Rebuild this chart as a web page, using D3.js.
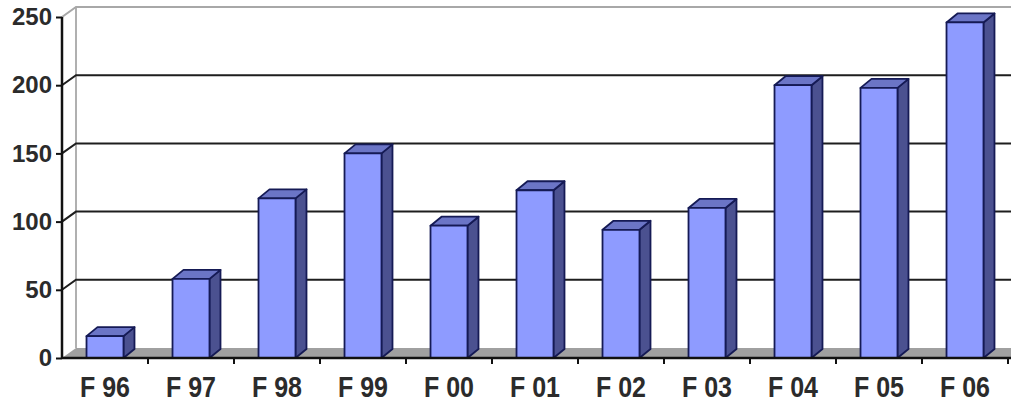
<!DOCTYPE html>
<html>
<head>
<meta charset="utf-8">
<script src="https://cdn.jsdelivr.net/npm/d3@7.9.0/dist/d3.min.js"></script>
<style>
  body { margin: 0; background: #fff; }
  svg text { font-family: "Liberation Sans", Arial, sans-serif; font-weight: bold; fill: #2b2b2b; }
</style>
</head>
<body>
<svg width="1011" height="404"></svg>
<script>
// data
const years = ['F 96', 'F 97', 'F 98', 'F 99', 'F 00', 'F 01', 'F 02', 'F 03', 'F 04', 'F 05', 'F 06'];
const counts = [16, 58, 117, 150, 97, 123, 94, 110, 200, 198, 246];
const yTicks = [0, 50, 100, 150, 200, 250];

const svg = d3.select('svg');
const plotLeft = 62, plotRight = 1008, plotBottom = 358, plotTop = 17;
const depth = { dx: 14, dy: -10 };     // wall depth
const barDepth = { dx: 11, dy: -9 };   // column depth

const x = d3.scaleBand().domain(years).range([plotLeft, plotRight]);
const y = d3.scaleLinear().domain([0, 250]).range([plotBottom, plotTop]);

// floor
svg.append('polygon')
  .attr('points', [[plotLeft, plotBottom], [plotLeft + depth.dx, plotBottom + depth.dy], [1011, plotBottom + depth.dy], [1011, plotBottom]].join(' '))
  .attr('fill', '#a0a0a0');

// back wall left edge
svg.append('line')
  .attr('x1', plotLeft + depth.dx).attr('x2', plotLeft + depth.dx)
  .attr('y1', y(250) + depth.dy).attr('y2', y(0) + depth.dy)
  .attr('stroke', '#b0b0b0').attr('stroke-width', 2);

// gridlines: diagonal on the side wall, then along the back wall
yTicks.filter(d => d > 0).forEach(d => {
  const yy = y(d);
  const col = d === 250 ? '#a8a8a8' : '#1e1e1e';
  svg.append('polyline')
    .attr('points', [[plotLeft, yy], [plotLeft + depth.dx, yy + depth.dy], [1011, yy + depth.dy]].join(' '))
    .attr('fill', 'none').attr('stroke', col).attr('stroke-width', 2);
});

// y axis
const yAxis = svg.append('g')
  .attr('transform', `translate(${plotLeft},0)`)
  .call(d3.axisLeft(y).tickValues(yTicks).tickSize(6).tickPadding(4));
yAxis.select('.domain').attr('stroke', '#111').attr('stroke-width', 2.5).attr('d', `M0,${plotTop}V${plotBottom}`);
yAxis.selectAll('.tick line').attr('stroke', '#111').attr('stroke-width', 2);
yAxis.selectAll('.tick text').style('font-size', '24px').attr('fill', '#2b2b2b');

// bars
const bw = x.bandwidth() * 0.43;
const bars = svg.append('g').selectAll('g').data(years.map((c, i) => ({ c, v: counts[i] }))).join('g');
bars.each(function (d) {
  const g = d3.select(this);
  const x0 = x(d.c) + (x.bandwidth() - bw) / 2, x1 = x0 + bw;
  const y0 = y(0), y1 = y(d.v);
  const ddx = barDepth.dx, ddy = barDepth.dy;
  g.append('polygon')
    .attr('points', [[x1, y1], [x1 + ddx, y1 + ddy], [x1 + ddx, y0 + ddy], [x1, y0]].join(' '))
    .attr('fill', '#4b5190');
  g.append('polygon')
    .attr('points', [[x0, y1], [x0 + ddx, y1 + ddy], [x1 + ddx, y1 + ddy], [x1, y1]].join(' '))
    .attr('fill', '#6b75c6');
  g.append('rect')
    .attr('x', x0).attr('y', y1).attr('width', bw).attr('height', y0 - y1)
    .attr('fill', '#8e9bff');
  g.selectAll('polygon, rect').attr('stroke', '#151a55').attr('stroke-width', 1.8).attr('stroke-linejoin', 'round');
});

// x axis line and category ticks
svg.append('line')
  .attr('x1', plotLeft).attr('x2', 1011).attr('y1', plotBottom).attr('y2', plotBottom)
  .attr('stroke', '#111').attr('stroke-width', 2.5);
svg.append('g').selectAll('line').data(years.slice(1).concat(['end'])).join('line')
  .attr('x1', d => d === 'end' ? plotRight : x(d)).attr('x2', d => d === 'end' ? plotRight : x(d))
  .attr('y1', plotBottom).attr('y2', plotBottom + 6)
  .attr('stroke', '#111').attr('stroke-width', 2);

// category labels, a little stretched vertically like the source image
svg.append('g').selectAll('text').data(years).join('text')
  .attr('transform', d => `translate(${x(d) + x.bandwidth() / 2},397) scale(1,1.18)`)
  .attr('text-anchor', 'middle')
  .style('font-size', '25px')
  .text(d => d);
</script>
</body>
</html>
